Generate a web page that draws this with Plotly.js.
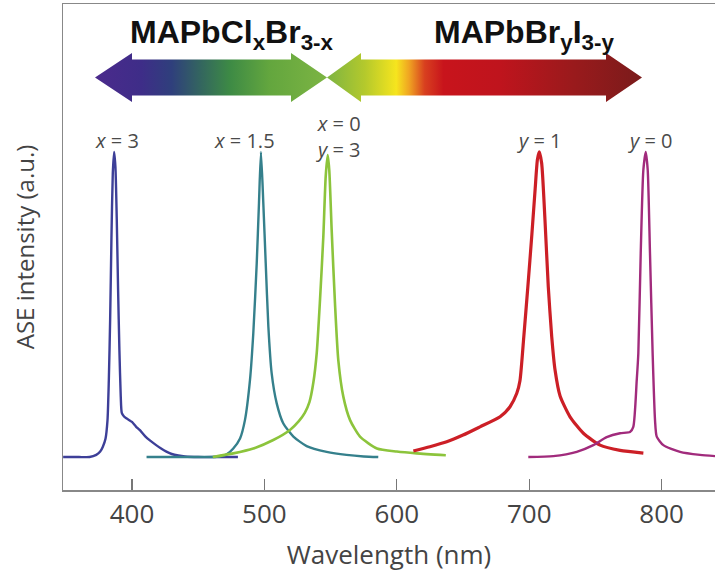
<!DOCTYPE html>
<html>
<head>
<meta charset="utf-8">
<script src="https://cdn.plot.ly/plotly-3.0.1.min.js"></script>
<style>html,body{margin:0;padding:0;background:#fff;}#chart{width:715px;height:574px;}</style>
</head>
<body>
<div id="chart"></div>
<script>
// ---- Data (wavelength in nm, ASE intensity in a.u.) ----
const blueWl = [348,360,368,373,376,378,380,381.5,382.5,383.5,384.5,385.5,386.5,387.5,388.5,389.5,390.5,391.5,392.3,394,396,398,400,403,406,410,414,418,422,426,430,435,440,450,465,480];
const blueI  = [0,0,0,0.007,0.018,0.034,0.06,0.12,0.25,0.45,0.72,0.93,1.0,0.95,0.78,0.55,0.35,0.2,0.145,0.133,0.126,0.121,0.115,0.1,0.088,0.068,0.053,0.04,0.028,0.018,0.01,0.005,0.002,0,0,0];

const tealWl = [411,430,450,464,471.5,476.5,481.6,485.3,489.1,491.6,494.2,495.9,497.4,499.2,501,503,505.5,509.3,514.3,521.9,531.9,547,562,575,586];
const tealI  = [0,0,0,0.001,0.009,0.028,0.061,0.121,0.252,0.405,0.635,0.832,1.0,0.83,0.635,0.427,0.274,0.176,0.11,0.067,0.036,0.017,0.007,0.002,0];

const greenWl = [461,476.5,491.6,506.7,519.3,526,530.5,534,537,539.5,542,544.5,546.3,547.8,549,550.8,553.3,555.8,559.6,564.7,572.2,585,600,615,637];
const greenI  = [0,0.012,0.028,0.056,0.089,0.118,0.145,0.18,0.245,0.34,0.515,0.722,0.92,0.99,0.94,0.744,0.504,0.318,0.198,0.121,0.067,0.028,0.018,0.012,0.006];

const redWl = [612.5,625,637.7,650,662.8,678,685.5,690.6,693,696,699,702,704.5,706.2,707.6,709.4,711.9,714.4,717,719.5,723.3,730.8,740.9,753.5,768.6,786.2];
const redI  = [0.02,0.034,0.05,0.072,0.099,0.132,0.165,0.209,0.25,0.4,0.56,0.73,0.88,0.975,1.0,0.963,0.777,0.558,0.394,0.285,0.2,0.132,0.078,0.039,0.022,0.013];

const magWl = [699.3,718.2,735.9,748.4,758.5,768.6,776.1,778.6,781.2,782.4,784.2,786.2,788,789.5,791.2,793.2,795,796.3,801.3,813.9,829,840.3];
const magI  = [0,0.003,0.017,0.039,0.065,0.078,0.082,0.099,0.252,0.34,0.668,0.941,1.0,0.94,0.668,0.34,0.121,0.067,0.039,0.017,0.007,0.003];

const seriesNames  = ['x = 3','x = 1.5','x = 0, y = 3','y = 1','y = 0'];
const seriesColors = ['#3d3f98','#35808c','#8cc43c','#cc1f26','#a12b7c'];
const IT = s => '<span style="font-style:italic;font-size:20px">' + s + '</span>';
const peakLabels   = [IT('x')+' = 3', IT('x')+' = 1.5', IT('x')+' = 0<br>'+IT('y')+' = 3', IT('y')+' = 1', IT('y')+' = 0'];
const labelShiftX  = [3,-16,11,0,4];
const labelShiftY  = [11,11,19,11,11];

const tickVals = [400,500,600,700,800];
const tickText = ['400','500','600','700','800'];
const xTitle = 'Wavelength (nm)';
const yTitle = 'ASE intensity (a.u.)';
const leftFamily  = 'MAPbCl<sub>x</sub>Br<sub>3-x</sub>';
const rightFamily = 'MAPbBr<sub>y</sub>I<sub>3-y</sub>';

// ---- Build traces ----
const wls = [blueWl,tealWl,greenWl,redWl,magWl];
const ints = [blueI,tealI,greenI,redI,magI];
const widths = [2.4,2.4,2.6,3.2,2.4];
const traces = wls.map((w,i)=>({
  type:'scatter', mode:'lines', x:w, y:ints[i], name:seriesNames[i],
  line:{color:seriesColors[i], width:widths[i], shape:'spline', smoothing:0.6},
  hoverinfo:'skip'
}));

const fontFam = '"Open Sans", "DejaVu Sans", sans-serif';
const annotations = wls.map((w,i)=>{
  let k=0; ints[i].forEach((v,j)=>{ if(v>ints[i][k]) k=j; });
  return {x:w[k], y:ints[i][k], xref:'x', yref:'y', text:peakLabels[i], showarrow:false,
    xanchor:'center', yanchor:'middle', xshift:labelShiftX[i], yshift:labelShiftY[i],
    font:{family:fontFam, size:20, color:'#4a4a4a'}};
});
const L=63, T=4, W=715-63, H=490-4;
function pixAnn(px, py, text){
  return {x:(px-L)/W, y:1-(py-T)/H, xref:'paper', yref:'paper', xanchor:'center', yanchor:'middle',
    text:text, showarrow:false,
    font:{family:'"Liberation Sans", Arial, sans-serif', size:32, color:'#111', weight:'bold'}};
}
annotations.push(pixAnn(232, 34, leftFamily));
annotations.push(pixAnn(524, 34, rightFamily));

// ---- Decorative gradient arrows (SVG overlay in figure pixel space) ----
const svg = `<svg xmlns="http://www.w3.org/2000/svg" width="715" height="574" viewBox="0 0 715 574" preserveAspectRatio="none">
<defs>
<linearGradient id="g1" x1="95" x2="327" y1="0" y2="0" gradientUnits="userSpaceOnUse">
<stop offset="0" stop-color="#4b2a8c"/><stop offset="0.2" stop-color="#3e2d88"/>
<stop offset="0.33" stop-color="#2f3f7c"/><stop offset="0.45" stop-color="#336460"/>
<stop offset="0.58" stop-color="#3d8a45"/><stop offset="0.75" stop-color="#63a63e"/>
<stop offset="1" stop-color="#7cb443"/></linearGradient>
<linearGradient id="g2" x1="327" x2="642" y1="0" y2="0" gradientUnits="userSpaceOnUse">
<stop offset="0" stop-color="#7db442"/><stop offset="0.12" stop-color="#b4c92c"/>
<stop offset="0.22" stop-color="#f6e51e"/><stop offset="0.26" stop-color="#f0a522"/>
<stop offset="0.31" stop-color="#d8401f"/><stop offset="0.37" stop-color="#c8141c"/>
<stop offset="0.55" stop-color="#bf141d"/><stop offset="0.78" stop-color="#9a1a1c"/>
<stop offset="1" stop-color="#7a1b1b"/></linearGradient>
</defs>
<polygon fill="url(#g1)" points="95,77.5 132,53 132,59.5 291,59.5 291,53 327,77.5 291,102 291,95.5 132,95.5 132,102"/>
<polygon fill="url(#g2)" points="327,77.5 361,53 361,59.5 606,59.5 606,53 642,77.5 606,102 606,95.5 361,95.5 361,102"/>
</svg>`;
const svgUri = 'data:image/svg+xml;charset=utf-8,' + encodeURIComponent(svg);

const layout = {
  width:715, height:574,
  margin:{l:L, r:0, t:T, b:574-490, pad:0},
  paper_bgcolor:'#fff', plot_bgcolor:'#fff',
  showlegend:false,
  xaxis:{range:[347.9,840.3], tickvals:tickVals, ticktext:tickText, ticks:'inside', ticklen:11,
    tickwidth:1.3, tickcolor:'#777', showline:true, linecolor:'#888', linewidth:1.5, mirror:true,
    showgrid:false, zeroline:false, tickfont:{family:fontFam, size:26, color:'#444'},
    ticklabelstandoff:0,
    title:{text:xTitle, font:{family:fontFam, size:26, color:'#444'}, standoff:16}},
  yaxis:{range:[-0.108,1.485], showline:true, linecolor:'#888', linewidth:1.5, ticks:'',
    showticklabels:false, showgrid:false, zeroline:false,
    title:{text:yTitle, font:{family:fontFam, size:24, color:'#444'}, standoff:20}},
  annotations:annotations,
  images:[{source:svgUri, xref:'paper', yref:'paper', x:-L/W, y:1+T/H, sizex:715/W, sizey:574/H,
    xanchor:'left', yanchor:'top', sizing:'stretch', layer:'above'}]
};

Plotly.newPlot('chart', traces, layout, {staticPlot:true, displayModeBar:false});
</script>
</body>
</html>
